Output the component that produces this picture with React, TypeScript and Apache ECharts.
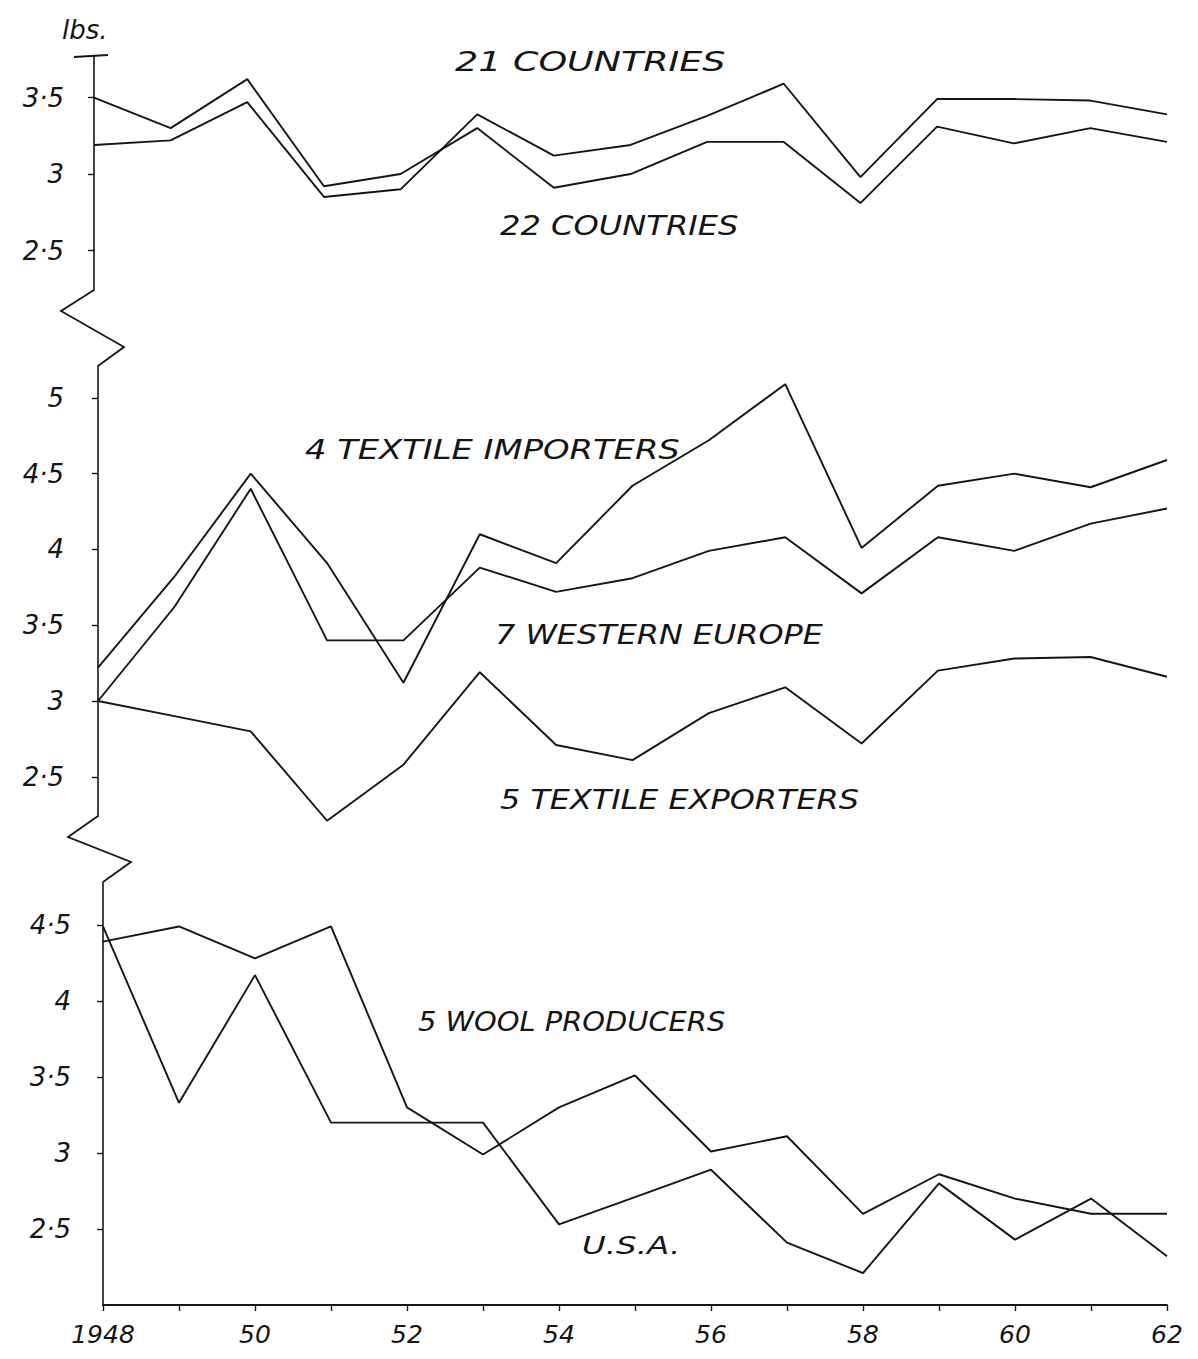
import React, { useEffect, useRef } from "react";
import * as echarts from "echarts";

// ---- data (lbs. per head), years 1948..1962 ----
const years = [1948, 1949, 1950, 1951, 1952, 1953, 1954, 1955, 1956, 1957, 1958, 1959, 1960, 1961, 1962];
const countries21 = [3.19, 3.22, 3.47, 2.85, 2.9, 3.39, 3.12, 3.19, 3.38, 3.59, 2.98, 3.49, 3.49, 3.48, 3.39];
const countries22 = [3.5, 3.3, 3.62, 2.92, 3.0, 3.3, 2.91, 3.0, 3.21, 3.21, 2.81, 3.31, 3.2, 3.3, 3.21];
const textileImporters = [3.22, 3.82, 4.5, 3.91, 3.12, 4.1, 3.91, 4.42, 4.72, 5.09, 4.01, 4.42, 4.5, 4.41, 4.59];
const westernEurope = [3.0, 3.62, 4.4, 3.4, 3.4, 3.88, 3.72, 3.81, 3.99, 4.08, 3.71, 4.08, 3.99, 4.17, 4.27];
const textileExporters = [3.0, 2.9, 2.8, 2.21, 2.58, 3.19, 2.71, 2.61, 2.92, 3.09, 2.72, 3.2, 3.28, 3.29, 3.16];
const woolProducers = [4.39, 4.49, 4.28, 4.49, 3.3, 2.99, 3.3, 3.51, 3.01, 3.11, 2.6, 2.86, 2.7, 2.6, 2.6];
const usa = [4.49, 3.33, 4.17, 3.2, 3.2, 3.2, 2.53, 2.71, 2.89, 2.41, 2.21, 2.8, 2.43, 2.7, 2.32];

const ticksTop = [2.5, 3, 3.5];
const ticksMid = [2.5, 3, 3.5, 4, 4.5, 5];
const ticksBottom = [2.5, 3, 3.5, 4, 4.5];

const INK = "#151515";
const FONT = "DejaVu Sans";

const fmtTick = (v: number) => (Number.isInteger(v) ? String(v) : String(v).replace(".", "·"));
const fmtYear = (v: number) => {
  if (v === 1948) return "1948";
  if (v % 2 === 0) return String(v).slice(2);
  return "";
};

export default function App() {
  const ref = useRef<HTMLDivElement>(null);
  useEffect(() => {
    if (!ref.current) return;
    const chart = echarts.init(ref.current, undefined, { renderer: "svg" });
    const pairs = (vals: number[]) => years.map((y, i) => [y, vals[i]]);

    const yAxisBase = (grid: number, min: number, max: number, ticks: number[], margin: number) => ({
      type: "value",
      gridIndex: grid,
      min,
      max,
      axisLine: { show: true, lineStyle: { color: INK, width: 1.6 } },
      axisTick: { show: true, customValues: ticks, length: 6, lineStyle: { color: INK, width: 1.4 } },
      axisLabel: {
        customValues: ticks,
        formatter: fmtTick,
        color: INK,
        fontSize: 26,
        fontStyle: "italic",
        fontFamily: FONT,
        margin,
      },
      splitLine: { show: false },
    });
    const xAxisBase = (grid: number, show: boolean) => ({
      type: "value",
      gridIndex: grid,
      min: 1948,
      max: 1962,
      interval: 1,
      show,
      axisLine: { show: true, onZero: false, lineStyle: { color: INK, width: 1.8 } },
      axisTick: { show: true, length: 6, lineStyle: { color: INK, width: 1.4 } },
      axisLabel: {
        formatter: fmtYear,
        color: INK,
        fontSize: 25,
        fontStyle: "italic",
        fontFamily: FONT,
        margin: 17,
        showMinLabel: true,
        showMaxLabel: true,
      },
      splitLine: { show: false },
    });
    const line = (name: string, grid: number, vals: number[]) => ({
      name,
      type: "line",
      xAxisIndex: grid,
      yAxisIndex: grid,
      data: pairs(vals),
      symbol: "none",
      showSymbol: false,
      clip: false,
      lineStyle: { color: INK, width: 1.9 },
    });
    const label = (text: string, x: number, y: number, size: number, sx: number) => ({
      type: "text",
      x,
      y,
      scaleX: sx,
      style: {
        text,
        fill: INK,
        fontSize: size,
        fontStyle: "italic",
        fontFamily: FONT,
        align: "left",
        verticalAlign: "middle",
      },
    });
    const stroke = { stroke: INK, lineWidth: 1.8, fill: "none" };

    chart.setOption({
      animation: false,
      backgroundColor: "#ffffff",
      grid: [
        { left: 94, right: 31, top: 56.2, height: 234.1 },
        { left: 98, right: 31, top: 366, height: 450.2 },
        { left: 103, right: 31, top: 882.4, height: 422.6 },
      ],
      xAxis: [xAxisBase(0, false), xAxisBase(1, false), xAxisBase(2, true)],
      yAxis: [
        yAxisBase(0, 2.24, 3.77, ticksTop, 30),
        yAxisBase(1, 2.24, 5.21, ticksMid, 34),
        yAxisBase(2, 2.0, 4.78, ticksBottom, 32),
      ],
      series: [
        line("21 Countries", 0, countries21),
        line("22 Countries", 0, countries22),
        line("4 Textile Importers", 1, textileImporters),
        line("7 Western Europe", 1, westernEurope),
        line("5 Textile Exporters", 1, textileExporters),
        line("5 Wool Producers", 2, woolProducers),
        line("U.S.A.", 2, usa),
      ],
      graphic: [
        label("lbs.", 62, 30, 26, 1),
        { type: "line", shape: { x1: 74, y1: 57, x2: 108, y2: 55 }, style: stroke },
        { type: "polyline", shape: { points: [[94, 290], [61, 311], [124, 347], [98, 366]] }, style: stroke },
        { type: "polyline", shape: { points: [[98, 816], [68, 837], [131, 862], [103, 882]] }, style: stroke },
        label("21 COUNTRIES", 455, 62, 27, 1.35),
        label("22 COUNTRIES", 500, 225, 27, 1.19),
        label("4 TEXTILE IMPORTERS", 305, 450, 27, 1.25),
        label("7 WESTERN EUROPE", 495, 635, 27, 1.18),
        label("5 TEXTILE EXPORTERS", 500, 800, 27, 1.18),
        label("5 WOOL PRODUCERS", 418, 1022, 27, 1.07),
        label("U.S.A.", 582, 1245, 25, 1.3),
      ],
    });
    return () => chart.dispose();
  }, []);
  return (
    <div
      ref={ref}
      style={{ position: "absolute", left: 0, top: 0, width: 1198, height: 1359, background: "#fff" }}
    />
  );
}
